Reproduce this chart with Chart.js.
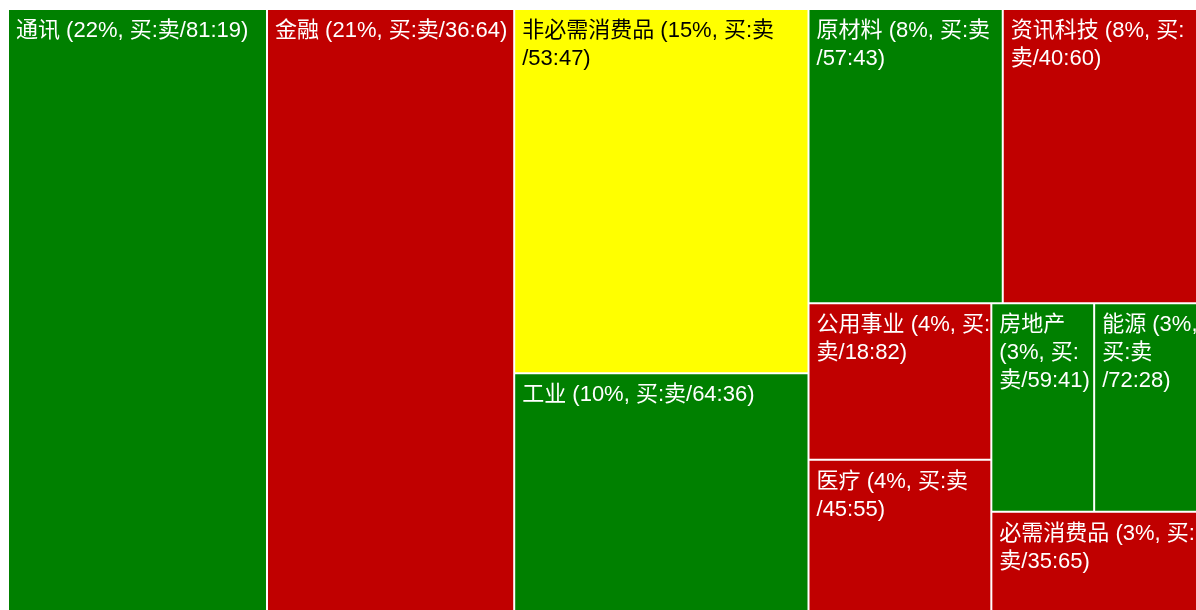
<!DOCTYPE html>
<html>
<head>
<meta charset="utf-8">
<script src="https://cdn.jsdelivr.net/npm/chart.js@4.4.1/dist/chart.umd.min.js"></script>
<style>
    html, body { margin: 0; padding: 0; overflow: hidden; background: #fff; }
    #wrap { position: relative; width: 1197px; height: 616px; }
</style>
</head>
<body>
<div id="wrap"><canvas id="treemap"></canvas></div>
<script>
// sector weights (% of turnover) and buy:sell split
const sectors = ['通讯', '金融', '非必需消费品', '工业', '原材料', '资讯科技', '公用事业', '医疗', '房地产', '能源', '必需消费品'];
const weights = [22, 21, 15, 10, 8, 8, 4, 4, 3, 3, 3];
const buyPct = [81, 36, 53, 64, 57, 40, 18, 45, 59, 72, 35];
const sellPct = [19, 64, 47, 36, 43, 60, 82, 55, 41, 28, 65];

const GREEN = '#008000';
const RED = '#c00000';
const YELLOW = '#ffff00';

const FONT = '22px "Liberation Sans", "Noto Sans CJK SC", sans-serif';
const PAD_X = 8;
const FIRST_BASELINE = 28;
const LINE_H = 28;

// tiles are computed on a 280 x 100 grid, the scales stretch it to the canvas
const GRID_W = 280;
const GRID_H = 100;

const labels = sectors.map((s, i) => `${s} (${weights[i]}%, 买:卖/${buyPct[i]}:${sellPct[i]})`);

const cellColor = (i) => {
    const diff = buyPct[i] - sellPct[i];
    if (diff >= 10) return GREEN;
    if (diff <= -10) return RED;
    return YELLOW;
}

const sum = (arr) => arr.reduce((a, b) => a + b, 0);

const worstRatio = (row, side) => {
    const thick = sum(row) / side;
    return Math.max(...row.map(v => {
        const len = v / thick;
        return Math.max(len / thick, thick / len);
    }));
}

// plain squarified tiling (Bruls et al.)
const squarify = (values, x, y, w, h) => {
    const total = sum(values);
    const areas = values.map(v => v * w * h / total);
    const tiles = [];
    let i = 0;
    while (i < areas.length) {
        const column = w >= h;
        const side = column ? h : w;
        const row = [areas[i]];
        let j = i + 1;
        while (j < areas.length && worstRatio([...row, areas[j]], side) <= worstRatio(row, side)) {
            row.push(areas[j]);
            j++;
        }
        const thick = sum(row) / side;
        let off = 0;
        row.forEach(a => {
            const len = a / thick;
            if (column) tiles.push({x0: x, x1: x + thick, y0: y + off, y1: y + off + len});
            else tiles.push({x0: x + off, x1: x + off + len, y0: y, y1: y + thick});
            off += len;
        });
        if (column) { x += thick; w -= thick; } else { y += thick; h -= thick; }
        i = j;
    }
    return tiles;
}

class TreemapController extends Chart.DatasetController {
    static id = 'treemap';
    static defaults = {
        datasetElementType: false,
        dataElementType: 'bar',
    };

    update(mode) {
        const meta = this._cachedMeta;
        this.updateElements(meta.data, 0, meta.data.length, mode);
    }

    updateElements(rects, start, count, mode) {
        const {xScale, yScale} = this._cachedMeta;
        const data = this.getDataset().data;
        for (let i = start; i < start + count; i++) {
            const t = data[i];
            const left = xScale.getPixelForValue(t.x0);
            const right = xScale.getPixelForValue(t.x1);
            const top = yScale.getPixelForValue(t.y0);
            const bottom = yScale.getPixelForValue(t.y1);
            this.updateElement(rects[i], i, {
                x: (left + right) / 2,
                y: top,
                base: bottom,
                width: right - left,
                height: bottom - top,
                horizontal: false,
                borderSkipped: {},
                inflateAmount: 0,
                options: this.resolveDataElementOptions(i, mode)
            }, mode);
        }
    }
}
Chart.register(TreemapController);

const tokenize = (text) => text.match(/[\u4e00-\u9fff][:：]?|\/[^\s\u4e00-\u9fff]*|[^\s\u4e00-\u9fff\/]+|\s+/g);

const wrapLabel = (ctx, text, maxW) => {
    const lines = [];
    let line = '';
    for (const tok of tokenize(text)) {
        const trial = line + tok;
        if (line.trim() && ctx.measureText(trial.trimEnd()).width > maxW) {
            lines.push(line.trimEnd());
            line = tok.trimStart();
        } else {
            line = trial;
        }
    }
    if (line.trim()) lines.push(line.trimEnd());
    return lines;
}

const cellLabels = {
    id: 'cellLabels',
    afterDatasetsDraw(chart) {
        const ctx = chart.ctx;
        const meta = chart.getDatasetMeta(0);
        ctx.save();
        ctx.font = FONT;
        ctx.textAlign = 'left';
        ctx.textBaseline = 'alphabetic';
        meta.data.forEach((el, i) => {
            const {x, y, base, width} = el.getProps(['x', 'y', 'base', 'width']);
            const left = x - width / 2;
            const lines = wrapLabel(ctx, labels[i], width - 6);
            ctx.save();
            ctx.beginPath();
            ctx.rect(left, y, width, base - y);
            ctx.clip();
            ctx.fillStyle = cellColor(i) === YELLOW ? '#000' : '#fff';
            lines.forEach((ln, k) => ctx.fillText(ln, left + PAD_X, y + FIRST_BASELINE + k * LINE_H));
            ctx.restore();
        });
        ctx.restore();
    }
};

const tiles = squarify(weights, 0, 0, GRID_W, GRID_H);

new Chart(document.getElementById('treemap'), {
    type: 'treemap',
    data: {
        labels: sectors,
        datasets: [{
            data: tiles,
            parsing: false,
            backgroundColor: sectors.map((s, i) => cellColor(i)),
            borderColor: '#ffffff',
            borderWidth: 1,
        }]
    },
    options: {
        responsive: true,
        maintainAspectRatio: false,
        animation: false,
        events: [],
        layout: {padding: {left: 8, top: 9, right: 0, bottom: 0}},
        scales: {
            x: {type: 'linear', min: 0, max: GRID_W, bounds: 'data', display: false},
            y: {type: 'linear', min: 0, max: GRID_H, bounds: 'data', reverse: true, display: false}
        },
        plugins: {
            legend: {display: false},
            tooltip: {enabled: false}
        }
    },
    plugins: [cellLabels]
});
</script>
</body>
</html>
